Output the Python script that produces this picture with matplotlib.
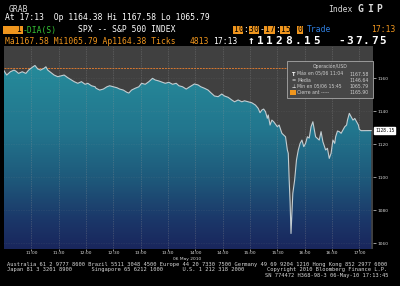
import numpy as np
import matplotlib
matplotlib.use("Agg")
import matplotlib.pyplot as plt
from matplotlib.colors import LinearSegmentedColormap
from matplotlib.patches import Rectangle, Polygon

# SPX intraday, 06 May 2010 (terminal clock)
times = ["10:30", "10:33", "10:37", "10:41", "10:43", "10:46", "10:50", "10:54", "10:57", "11:02",
         "11:04", "11:07", "11:10", "11:14", "11:16", "11:18", "11:21", "11:25", "11:29", "11:33",
         "11:36", "11:40", "11:44", "11:47", "11:51", "11:55", "11:59", "12:02", "12:06", "12:10",
         "12:11", "12:15", "12:19", "12:23", "12:26", "12:30", "12:34", "12:37", "12:41", "12:45",
         "12:47", "12:50", "12:54", "12:58", "13:01", "13:05", "13:09", "13:13", "13:16", "13:20",
         "13:24", "13:27", "13:31", "13:35", "13:39", "13:42", "13:46", "13:50", "13:53", "13:59",
         "14:03", "14:06", "14:10", "14:14", "14:17", "14:21", "14:25", "14:29", "14:32", "14:36",
         "14:40", "14:43", "14:47", "14:51", "14:54", "14:58", "15:02", "15:06", "15:09", "15:11",
         "15:13", "15:15", "15:17", "15:19", "15:20", "15:22", "15:24", "15:26", "15:30", "15:32",
         "15:35", "15:39", "15:41", "15:42", "15:43", "15:44", "15:45", "15:46", "15:47", "15:49",
         "15:51", "15:53", "15:55", "15:57", "15:59", "16:01", "16:03", "16:05", "16:07", "16:09",
         "16:12", "16:16", "16:18", "16:20", "16:23", "16:25", "16:27", "16:29", "16:31", "16:33",
         "16:34", "16:36", "16:38", "16:40", "16:42", "16:44", "16:46", "16:47", "16:49", "16:51",
         "16:53", "16:55", "16:57", "16:59", "17:00", "17:02", "17:13"]
prices = [1164.4, 1161.8, 1163.8, 1164.8, 1164.2, 1162.8, 1163.8, 1162.8, 1164.8, 1166.9,
          1167.58, 1165.5, 1164.8, 1165.9, 1166.8, 1164.8, 1163.5, 1161.8, 1160.8, 1161.4,
          1161.8, 1160.2, 1158.8, 1157.8, 1156.8, 1157.8, 1156.2, 1156.8, 1155.3, 1154.7,
          1153.8, 1152.7, 1153.3, 1154.7, 1155.3, 1154.7, 1154.1, 1153.3, 1152.7, 1151.3,
          1150.9, 1152.7, 1153.8, 1154.7, 1156.8, 1156.2, 1157.8, 1159.8, 1158.8, 1158.2,
          1157.4, 1156.8, 1157.4, 1156.2, 1156.8, 1155.3, 1154.7, 1153.3, 1154.4, 1156.4,
          1155.8, 1154.7, 1153.8, 1152.7, 1151.1, 1149.1, 1148.7, 1150.3, 1149.1, 1148.3,
          1146.7, 1145.6, 1146.7, 1145.6, 1146.2, 1145.6, 1145.0, 1143.6, 1141.6, 1139.0,
          1140.6, 1141.2, 1139.6, 1135.6, 1137.6, 1131.5, 1134.5, 1133.5, 1130.5, 1131.5,
          1126.5, 1124.4, 1116.4, 1114.4, 1098.2, 1085.0, 1065.79, 1078.0, 1090.1, 1098.2,
          1110.3, 1116.4, 1120.4, 1122.4, 1118.4, 1120.4, 1124.4, 1123.6, 1130.5, 1133.5,
          1124.4, 1122.4, 1127.5, 1121.4, 1116.4, 1117.4, 1111.3, 1114.4, 1122.4, 1120.4,
          1124.4, 1127.9, 1127.5, 1126.5, 1128.5, 1130.5, 1131.5, 1134.5, 1138.6, 1136.5,
          1134.5, 1135.5, 1133.5, 1131.5, 1128.9, 1128.1, 1128.15]

tick_times = ["11:00", "11:30", "12:00", "12:30", "13:00", "13:30", "14:00",
              "14:30", "15:00", "15:30", "16:00", "16:30", "17:00"]
y_ticks = [1060, 1080, 1100, 1120, 1140, 1160]

day_open = 1164.38
day_high = 1167.58
day_low = 1065.79
day_mean = 1146.64
prev_close = 1165.90
last = 1128.15
change = -37.75
ticks_count = 4813


def to_hours(t):
    return int(t[:2]) + int(t[3:]) / 60.0


hours = np.array([to_hours(t) for t in times])
px = np.array(prices)

ORANGE = "#f0961e"
GREY_TXT = "#d8d8d8"
MONO = ["DejaVu Sans Mono", "DejaVu Sans"]

fig = plt.figure(figsize=(4, 2.86), dpi=100, facecolor="black")

# chart area in pixels: x 4..373, y 46..249
W, H = 400, 286
ax = fig.add_axes([4 / W, 1 - 249 / H, (373 - 4) / W, (249 - 46) / H])
ax.set_facecolor("#404040")
x0, x1 = 10.5, 17.25
ylo, yhi = 1056.4, 1179.4

cmap = LinearSegmentedColormap.from_list(
    "bbg", [(0.0, "#19265c"), (0.142, "#1b3769"), (0.34, "#1e587a"),
            (0.587, "#22768e"), (0.93, "#268c9b"), (1.0, "#288e9d")])
grad = np.linspace(0, 1, 256).reshape(-1, 1)
im = ax.imshow(grad, cmap=cmap, aspect="auto", origin="lower",
               extent=(x0, x1, ylo, yhi), zorder=2)
verts = [(hours[0], ylo)] + list(zip(hours, px)) + [(hours[-1], ylo)]
clip = Polygon(verts, closed=True, facecolor="none", edgecolor="none")
ax.add_patch(clip)
im.set_clip_path(clip)

ax.axhline(prev_close, color="#d9782f", lw=0.7, ls=(0, (2, 1)), zorder=1.5)
ax.plot(hours, px, color="#c3cdd1", lw=0.8, zorder=3)

ax.set_xlim(x0, x1)
ax.set_ylim(ylo, yhi)
ax.set_axisbelow(False)
ax.set_xticks([to_hours(t) for t in tick_times])
ax.set_xticklabels(tick_times)
ax.set_yticks(y_ticks)
ax.yaxis.tick_right()
ax.grid(axis="x", color="#9a9a9a", ls=(0, (1, 1.5)), lw=0.5, alpha=0.55)
ax.grid(axis="y", color="#9a9a9a", ls=(0, (1, 2)), lw=0.4, alpha=0.3)
ax.tick_params(axis="x", colors=GREY_TXT, labelsize=3.2, length=1.2, width=0.5, pad=0.6)
ax.tick_params(axis="y", colors=GREY_TXT, labelsize=3.2, length=2.2, width=0.5, pad=0.8)
for s in ax.spines.values():
    s.set_visible(False)

ax.annotate(f"{last:.2f}", xy=(1.0, last), xycoords=("axes fraction", "data"),
            xytext=(1.5, 0), textcoords="offset points", ha="left", va="center",
            fontsize=3.3, color="black", family=MONO,
            bbox=dict(boxstyle="square,pad=0.25", fc="white", ec="white"))

# overlay in pixel coordinates
ov = fig.add_axes([0, 0, 1, 1], zorder=5)
ov.set_xlim(0, W)
ov.set_ylim(H, 0)
ov.axis("off")


def txt(x, y, s, size=5.8, color="white", **kw):
    ov.text(x, y, s, fontsize=size, color=color, family=MONO, ha="left", va="center", **kw)


def spaced(x, y, s, pitch, size=5.8, color="white", **kw):
    for i, c in enumerate(s):
        ov.text(x + i * pitch + pitch / 2, y, c, fontsize=size, color=color,
                family=MONO, ha="center", va="center", **kw)


# header
txt(9, 9, "GRAB", color=GREY_TXT)
txt(328, 9, "Index", color=GREY_TXT)
spaced(356, 9, "GIP", 9.4, size=7, color=GREY_TXT, weight="bold")
txt(5, 17.5, f"At 17:13  Op {day_open:.2f} Hi {day_high:.2f} Lo {day_low:.2f}")

ov.add_patch(Rectangle((3, 26), 20, 8, fc=ORANGE, ec="none"))
txt(16.5, 30, "1", color="black")
txt(23, 30, "-DIA(S)", color="#36c436")
txt(78, 30, "SPX -- S&P 500 INDEX")
rng = "10:30-17:15"
for i in (0, 3, 6, 9):
    ov.add_patch(Rectangle((233 + i * 5.2, 26), 10.4, 8, fc=ORANGE, ec="none"))
for i, c in enumerate(rng):
    ov.text(233 + i * 5.2 + 2.6, 30, c, fontsize=5.8, family=MONO, ha="center", va="center",
            color="black" if c.isdigit() else "white")
ov.add_patch(Rectangle((297, 26), 6, 8, fc=ORANGE, ec="none"))
txt(297.3, 30, "0", color="black")
txt(307, 30, "Trade", color="#2f7fe0")
txt(371, 30, "17:13", color=ORANGE)

txt(5, 41, f"Má{day_high:.2f} Mí{day_low:.2f} Ap{day_open:.2f} Ticks", color=ORANGE)
txt(190, 41, f"{ticks_count}", color=ORANGE)
txt(213, 41, "17:13")
spaced(246, 41, f"↑{last:.2f}", 9.4, size=8, weight="bold")
spaced(338, 41, f"{change:.2f}", 8.1, size=8, weight="bold")

# legend box
ov.add_patch(Rectangle((287, 61), 86, 37, fc="#474747", ec="#a8a8a8", lw=0.6))
LEG = "#cfcfcf"
ov.text(330, 66.7, "Operación/USD", fontsize=3.3, color=LEG, ha="center", va="center")
rows = [("Máx en 05/06 11:04", day_high, 74.0),
        ("Media", day_mean, 80.5),
        ("Mín en 05/06 15:45", day_low, 86.7),
        ("Cierre ant -----", prev_close, 92.8)]
for lab, val, yy in rows:
    ov.text(297, yy, lab, fontsize=3.3, color=LEG, ha="left", va="center")
    ov.text(369, yy, f"{val:.2f}", fontsize=3.3, color=LEG, ha="right", va="center")
ov.text(293.5, 74.0, "T", fontsize=3.6, color="white", ha="center", va="center", weight="bold")
ov.text(293.5, 80.5, "=", fontsize=3.6, color="white", ha="center", va="center")
ov.text(293.5, 86.7, "⊥", fontsize=3.6, color="white", ha="center", va="center")
ov.add_patch(Rectangle((289.5, 90.3), 6, 5, fc=ORANGE, ec="none"))

# date and footer
ov.text(173, 259, "06 May 2010", fontsize=3.2, color=GREY_TXT, ha="left", va="center")
txt(7, 264.5, "Australia 61 2 9777 8600 Brazil 5511 3048 4500 Europe 44 20 7330 7500 "
              "Germany 49 69 9204 1210 Hong Kong 852 2977 6000", size=3.9, color=GREY_TXT)
txt(7, 269.5, "Japan 81 3 3201 8900      Singapore 65 6212 1000      U.S. 1 212 318 2000"
              "       Copyright 2010 Bloomberg Finance L.P.", size=3.9, color=GREY_TXT)
txt(265, 275, "SN 774472 H368-98-3 06-May-10 17:13:45", size=3.9, color=GREY_TXT)

fig.savefig("out.png", dpi=100, facecolor="black")
